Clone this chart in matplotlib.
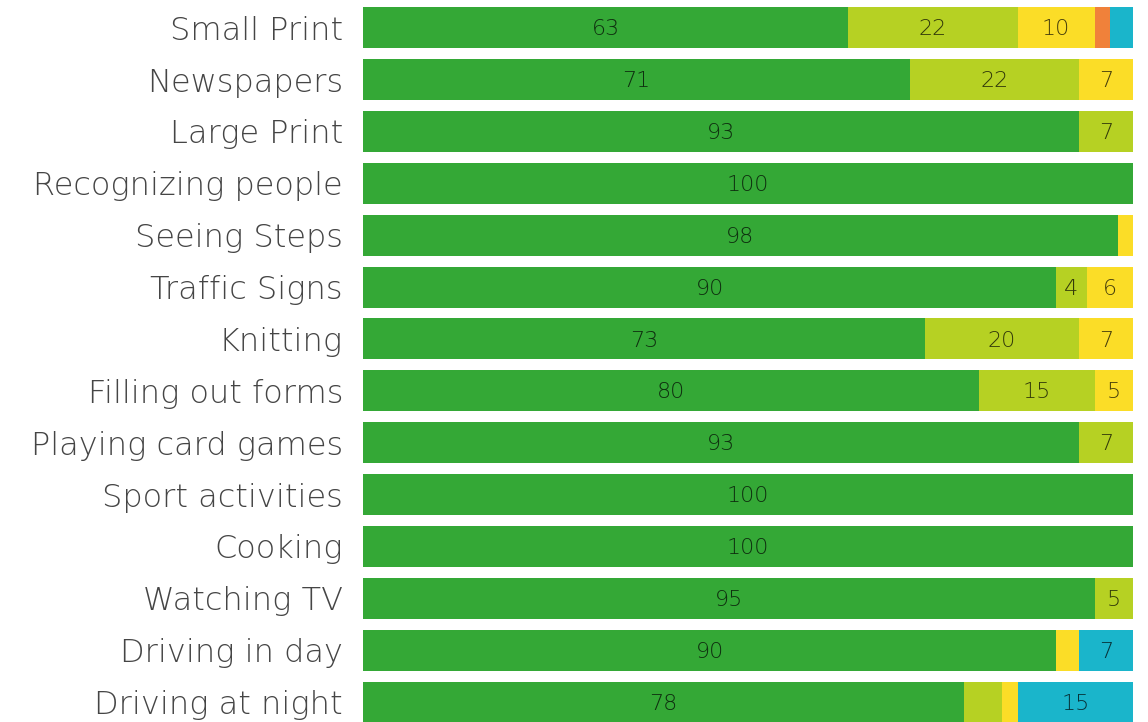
import matplotlib.pyplot as plt
import numpy as np

activities = ["Small Print", "Newspapers", "Large Print", "Recognizing people",
              "Seeing Steps", "Traffic Signs", "Knitting", "Filling out forms",
              "Playing card games", "Sport activities", "Cooking", "Watching TV",
              "Driving in day", "Driving at night"]

# share of answers per activity (percent), one list per answer group
group_1 = [63, 71, 93, 100, 98, 90, 73, 80, 93, 100, 100, 95, 90, 78]
group_2 = [22, 22, 7, 0, 0, 4, 20, 15, 7, 0, 0, 5, 0, 5]
group_3 = [10, 7, 0, 0, 2, 6, 7, 5, 0, 0, 0, 0, 3, 2]
group_4 = [2, 0, 0, 0, 0, 0, 0, 0, 0, 0, 0, 0, 0, 0]
group_5 = [3, 0, 0, 0, 0, 0, 0, 0, 0, 0, 0, 0, 7, 15]

# segments left without a number (activity, group index)
unlabeled = {("Driving at night", 1)}

groups = [group_1, group_2, group_3, group_4, group_5]
colors = ["#34a836", "#b6d123", "#fbdd27", "#f0813a", "#1ab5cb"]

plt.rcParams["font.family"] = ["DejaVu Sans"]

fig = plt.figure(figsize=(11.48, 7.22), dpi=100)
ax = fig.add_axes([363 / 1148, 0, 770 / 1148, 1])

y = np.arange(len(activities))
left = np.zeros(len(activities))
for gi, (vals, col) in enumerate(zip(groups, colors)):
    vals = np.array(vals, dtype=float)
    ax.barh(y, vals, left=left, height=0.79, color=col, linewidth=0)
    for i, v in enumerate(vals):
        if v >= 4 and (activities[i], gi) not in unlabeled:
            ax.text(left[i] + v / 2, y[i] + 0.03, f"{v:g}", ha="center", va="center",
                    fontsize=16, color="black", alpha=0.72, fontweight="light")
    left += vals

ax.set_xlim(0, 100)
ax.set_ylim(13.385, -0.535)
ax.set_yticks(y)
ax.set_yticklabels(activities, fontsize=23, color="#454545", fontweight="light")
for lab in ax.get_yticklabels():
    lab.set_va("center_baseline")
ax.tick_params(axis="y", length=0, pad=14.4)
ax.set_xticks([])
for s in ax.spines.values():
    s.set_visible(False)

fig.savefig("out.png", dpi=100)
